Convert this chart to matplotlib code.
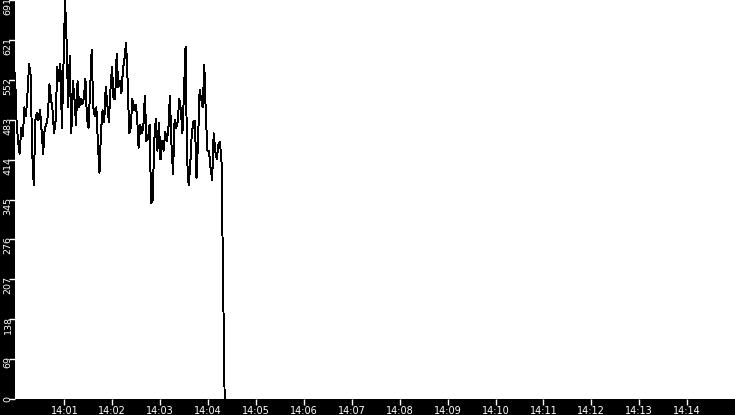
import matplotlib
matplotlib.use("Agg")
import matplotlib.pyplot as plt
import matplotlib.dates as mdates
import matplotlib.transforms as mtransforms
import datetime as dt

# ---- data ----
start_time = dt.datetime(2024, 1, 1, 13, 59, 58)
sample_step_ms = 1960
values = [
    565, 480, 445, 425, 470, 455, 505, 490, 530, 580,
    560, 427, 370, 483, 495, 483, 500, 465, 425, 470,
    475, 490, 545, 520, 500, 460, 483, 575, 550, 580,
    470, 580, 691, 617, 505, 594, 460, 550, 520, 475,
    550, 505, 520, 510, 520, 555, 485, 470, 535, 605,
    505, 490, 505, 442, 392, 465, 500, 480, 540, 510,
    480, 535, 575, 520, 520, 598, 540, 550, 530, 570,
    590, 617, 550, 460, 470, 520, 500, 510, 492, 435,
    475, 460, 470, 525, 447, 450, 475, 340, 345, 447,
    485, 430, 478, 415, 447, 430, 462, 447, 465, 525,
    442, 390, 483, 470, 480, 520, 500, 460, 530, 610,
    415, 370, 405, 460, 480, 482, 383, 447, 535, 520,
    505, 578, 490, 430, 430, 400, 380, 460, 430, 415,
    440, 445, 410,
    207, 0,
]
ytick_values = [0, 69.1, 138.2, 207.3, 276.4, 345.5, 414.6, 483.7, 552.8, 621.9, 691]
ytick_labels = ["0", "69", "138", "207", "276", "345", "414", "483", "552", "621", "691"]
axis_start = dt.datetime(2024, 1, 1, 13, 59, 58)
axis_end = dt.datetime(2024, 1, 1, 14, 15, 0)
xtick_minutes = list(range(1, 15))

times = [start_time + dt.timedelta(milliseconds=sample_step_ms * i) for i in range(len(values))]

fig = plt.figure(figsize=(7.35, 4.15), dpi=100, facecolor="black")
ax = fig.add_axes([15 / 735, 16 / 415, 720 / 735, 399 / 415])
ax.set_facecolor("white")
ax.plot(times, values, color="black", linewidth=0.7, antialiased=False)

ax.set_xlim(axis_start, axis_end)
ax.set_ylim(0, 691)

ax.set_xticks([dt.datetime(2024, 1, 1, 14, m, 0) for m in xtick_minutes])
ax.xaxis.set_major_formatter(mdates.DateFormatter("%H:%M"))
ax.set_yticks(ytick_values)
ax.set_yticklabels(ytick_labels)

for s in ax.spines.values():
    s.set_visible(False)

ax.tick_params(axis="both", colors="white", labelcolor="white", length=4,
               width=1, direction="out")
ax.tick_params(axis="x", pad=1, labelsize=7)
ax.tick_params(axis="y", pad=0, labelsize=6.8)

offset = mtransforms.ScaledTranslation(-1.5 / 100, 3 / 100, fig.dpi_scale_trans)
for lab in ax.get_yticklabels():
    lab.set_rotation(90)
    lab.set_va("top")
    lab.set_ha("center")
    lab.set_transform(lab.get_transform() + offset)

fig.savefig("out.png", dpi=100, facecolor="black")
